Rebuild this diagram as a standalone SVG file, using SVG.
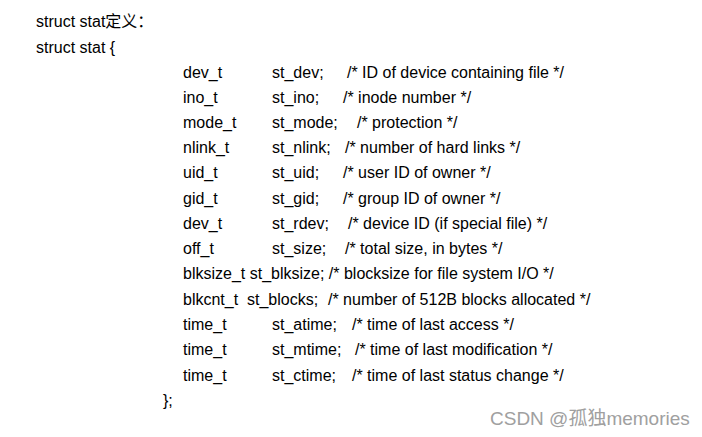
<svg xmlns="http://www.w3.org/2000/svg" width="702" height="437" viewBox="0 0 702 437">
<style>
text{font-family:"Liberation Sans",Arial,"Noto Sans CJK SC",sans-serif;font-size:16px;fill:#000}
.wm{font-size:19px;fill:#a0a0a0}
</style>
<rect width="702" height="437" fill="#fff"/>
<text x="36" y="27">struct stat定义：</text>
<text x="36" y="53">struct stat {</text>
<g>
<text x="183" y="78">dev_t</text><text x="272" y="78">st_dev;</text><text x="347" y="78">/* ID of device containing file */</text>
<text x="183" y="103">ino_t</text><text x="272" y="103">st_ino;</text><text x="343" y="103">/* inode number */</text>
<text x="183" y="128">mode_t</text><text x="272" y="128">st_mode;</text><text x="357" y="128">/* protection */</text>
<text x="183" y="153">nlink_t</text><text x="272" y="153">st_nlink;</text><text x="345" y="153">/* number of hard links */</text>
<text x="183" y="178">uid_t</text><text x="272" y="178">st_uid;</text><text x="343" y="178">/* user ID of owner */</text>
<text x="183" y="204">gid_t</text><text x="272" y="204">st_gid;</text><text x="343" y="204">/* group ID of owner */</text>
<text x="183" y="229">dev_t</text><text x="272" y="229">st_rdev;</text><text x="348" y="229">/* device ID (if special file) */</text>
<text x="183" y="254">off_t</text><text x="272" y="254">st_size;</text><text x="345" y="254">/* total size, in bytes */</text>
<text x="183" y="279">blksize_t st_blksize; /* blocksize for file system I/O */</text>
<text x="183" y="305">blkcnt_t</text><text x="247" y="305">st_blocks;</text><text x="328" y="305">/* number of 512B blocks allocated */</text>
<text x="183" y="330">time_t</text><text x="272" y="330">st_atime;</text><text x="352" y="330">/* time of last access */</text>
<text x="183" y="355">time_t</text><text x="272" y="355">st_mtime;</text><text x="355" y="355">/* time of last modification */</text>
<text x="183" y="381">time_t</text><text x="272" y="381">st_ctime;</text><text x="352" y="381">/* time of last status change */</text>
</g>
<text x="163" y="406">};</text>
<text class="wm" x="490" y="425">CSDN @孤独memories</text>
</svg>
